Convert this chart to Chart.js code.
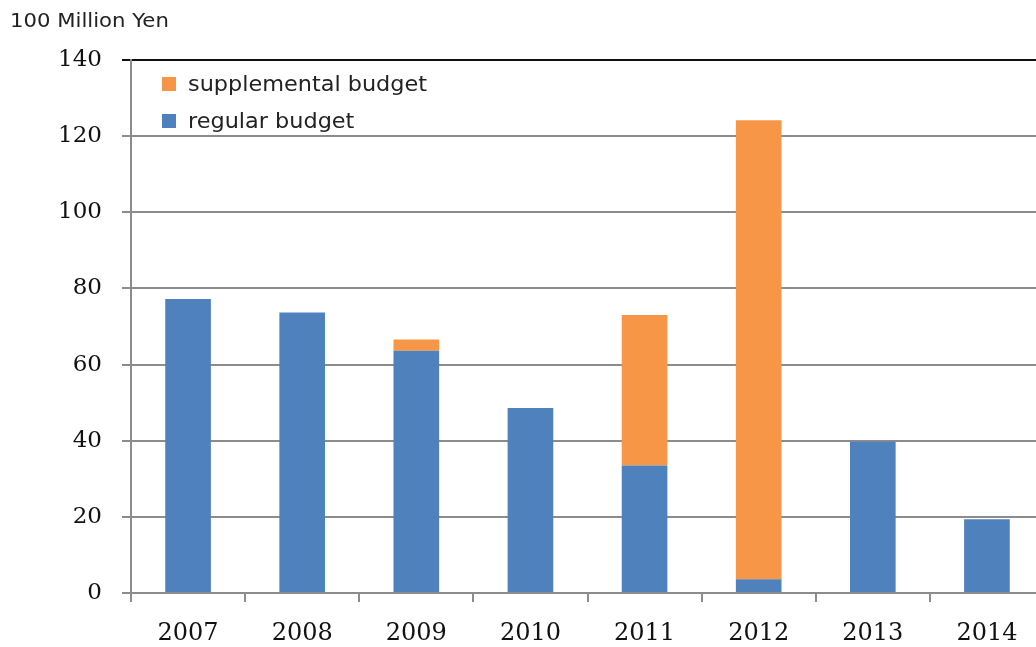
<!DOCTYPE html>
<html>
<head>
<meta charset="utf-8">
<script src="https://cdn.jsdelivr.net/npm/chart.js@4/dist/chart.umd.min.js"></script>
<style>
    body { margin: 0; overflow: hidden; background: #fff; }
    #wrap { position: relative; width: 1044px; height: 647px; }
</style>
</head>
<body>
<div id="wrap"><canvas id="budgetChart"></canvas></div>
<script>
// data (100 million yen)
const years = ["2007", "2008", "2009", "2010", "2011", "2012", "2013", "2014"];
const regularBudget = [77.2, 73.7, 63.6, 48.6, 33.5, 3.6, 39.7, 19.4];
const supplementalBudget = [0, 0, 3.0, 0, 39.5, 120.6, 0, 0];
const yTicks = [0, 20, 40, 60, 80, 100, 120, 140];
const unitLabel = "100 Million Yen";

const BLUE = "#4F81BD";
const ORANGE = "#F79646";
const GRID = "#8c8c8c";

// title above the axis + legend inside the plot
const extrasPlugin = {
    id: "extras",
    afterDraw(chart) {
        const ctx = chart.ctx;
        const area = chart.chartArea;
        ctx.save();
        ctx.fillStyle = "#222";
        ctx.textBaseline = "alphabetic";

        // the source text is a little wider than DejaVu, stretch it a bit
        ctx.save();
        ctx.font = "20px 'DejaVu Sans'";
        ctx.translate(10, 27);
        ctx.scale(1.06, 1);
        ctx.fillText(unitLabel, 0, 0);
        ctx.restore();

        const items = chart.data.datasets.slice().reverse();
        items.forEach((ds, i) => {
            const y = area.top + 17 + i * 37;
            ctx.fillStyle = ds.backgroundColor;
            ctx.fillRect(area.left + 31, y, 14, 14);
            ctx.save();
            ctx.fillStyle = "#222";
            ctx.font = "21px 'DejaVu Sans'";
            ctx.translate(area.left + 57, y + 14);
            ctx.scale(1.065, 1);
            ctx.fillText(ds.label, 0, 0);
            ctx.restore();
        });
        ctx.restore();
    }
};

new Chart(document.getElementById("budgetChart"), {
    type: "bar",
    data: {
        labels: years,
        datasets: [
            {
                label: "regular budget",
                data: regularBudget,
                backgroundColor: BLUE,
                barPercentage: 0.4,
                categoryPercentage: 1.0,
            },
            {
                label: "supplemental budget",
                data: supplementalBudget,
                backgroundColor: ORANGE,
                barPercentage: 0.4,
                categoryPercentage: 1.0,
            },
        ],
    },
    options: {
        responsive: true,
        maintainAspectRatio: false,
        animation: false,
        layout: { padding: { top: 60, left: 0, right: 0, bottom: 0 } },
        plugins: {
            legend: { display: false },
            tooltip: { enabled: false },
        },
        scales: {
            x: {
                stacked: true,
                afterFit: (scale) => { scale.height = 54; },
                grid: {
                    offset: true,
                    drawOnChartArea: false,
                    drawTicks: true,
                    tickLength: 9,
                    color: GRID,
                    lineWidth: 2,
                },
                border: { color: GRID, width: 2 },
                ticks: {
                    color: "#111",
                    padding: 17,
                    font: { family: "'DejaVu Serif'", size: 24 },
                },
            },
            y: {
                stacked: true,
                min: 0,
                max: 140,
                afterFit: (scale) => { scale.width = 131; },
                afterBuildTicks: (scale) => { scale.ticks = yTicks.map((v) => ({ value: v })); },
                grid: {
                    color: (c) => (c.tick && c.tick.value === 140 ? "#111" : GRID),
                    lineWidth: 2,
                    tickLength: 9,
                },
                border: { color: GRID, width: 2 },
                ticks: {
                    color: "#111",
                    padding: 20,
                    font: { family: "'DejaVu Serif'", size: 23 },
                },
            },
        },
    },
    plugins: [extrasPlugin],
});
</script>
</body>
</html>
